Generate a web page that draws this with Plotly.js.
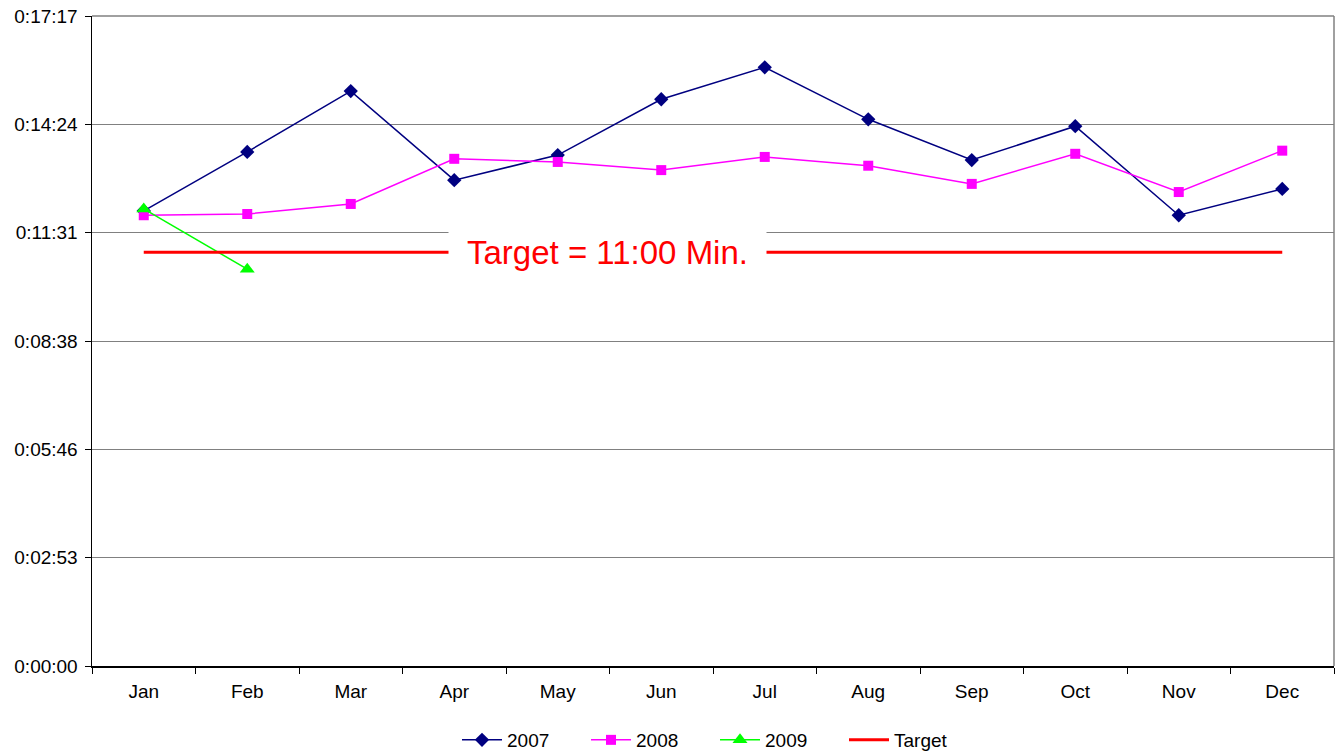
<!DOCTYPE html>
<html>
<head>
<meta charset="utf-8">
<script src="https://cdn.plot.ly/plotly-3.0.1.min.js"></script>
<style>html,body{margin:0;padding:0;background:#fff;}#chart{width:1340px;height:752px;}</style>
</head>
<body>
<div id="chart"></div>
<script>
// values in seconds
const months = ["Jan","Feb","Mar","Apr","May","Jun","Jul","Aug","Sep","Oct","Nov","Dec"];
const s2007 = [726, 820, 917, 775, 815, 904, 955, 872, 807, 861, 719, 761];
const s2008 = [719, 721, 737, 809, 804, 791, 812, 798, 769, 817, 756, 822];
const s2009 = [729, 633];
const target = [660, 660, 660, 660, 660, 660, 660, 660, 660, 660, 660, 660];
const yTickVals = [0, 172.8, 345.6, 518.4, 691.2, 864, 1036.8];
const yTickText = ["0:00:00","0:02:53","0:05:46","0:08:38","0:11:31","0:14:24","0:17:17"];
const targetLabel = "Target = 11:00 Min.";

const font = "'Liberation Sans', Arial, sans-serif";

const traces = [
  {x: months, y: s2007, name: "2007", type: "scatter", mode: "lines+markers",
   line: {color: "#000080", width: 1.5}, marker: {symbol: "diamond", size: 11, color: "#000080"}},
  {x: months, y: s2008, name: "2008", type: "scatter", mode: "lines+markers",
   line: {color: "#FF00FF", width: 1.5}, marker: {symbol: "square", size: 10, color: "#FF00FF"}},
  {x: months.slice(0, s2009.length), y: s2009, name: "2009", type: "scatter", mode: "lines+markers",
   line: {color: "#00FF00", width: 1.5}, marker: {symbol: "triangle-up", size: 13, color: "#00FF00"}},
  {x: months, y: target, name: "Target", type: "scatter", mode: "lines",
   line: {color: "#FF0000", width: 3}}
];

const layout = {
  width: 1340, height: 752,
  margin: {l: 92, r: 6, t: 16, b: 86},
  paper_bgcolor: "#fff", plot_bgcolor: "#fff",
  font: {family: font, size: 19, color: "#000"},
  showlegend: true,
  legend: {orientation: "h", x: 715 / 1340, xanchor: "center", xref: "container",
           y: 12 / 752, yanchor: "middle", yref: "container",
           font: {family: font, size: 19, color: "#000"}, itemwidth: 40,
           entrywidth: 74, entrywidthmode: "pixels", tracegroupgap: 0},
  xaxis: {type: "category", showgrid: false, showline: true, linecolor: "#000", linewidth: 1.5,
          ticks: "outside", tickson: "boundaries", ticklen: 6, tickcolor: "#000", tickwidth: 1,
          ticklabelstandoff: 8,
          range: [-0.5, 11.5], zeroline: false, fixedrange: true, automargin: false},
  yaxis: {range: [0, 1036.8], tickmode: "array", tickvals: yTickVals, ticktext: yTickText,
          showgrid: true, gridcolor: "#808080", gridwidth: 1, showline: true, linecolor: "#000", linewidth: 1.5,
          ticks: "outside", ticklen: 6, tickcolor: "#000", ticklabelstandoff: 3,
          zeroline: false, fixedrange: true, automargin: false},
  shapes: [
    {type: "line", xref: "paper", yref: "paper", x0: 1, x1: 1, y0: 0, y1: 1,
     line: {color: "#808080", width: 1.5}},
    {type: "line", xref: "paper", yref: "paper", x0: 0, x1: 1, y0: 1, y1: 1,
     line: {color: "#808080", width: 1.5}}
  ],
  annotations: [
    {xref: "paper", yref: "y", x: (607 - 92) / 1242, y: target[0], text: targetLabel, showarrow: false,
     font: {family: font, size: 33, color: "#FF0000"}, bgcolor: "#fff", borderpad: 18,
     xanchor: "center", yanchor: "middle"}
  ]
};

Plotly.newPlot("chart", traces, layout, {displayModeBar: false, staticPlot: true});
</script>
</body>
</html>
